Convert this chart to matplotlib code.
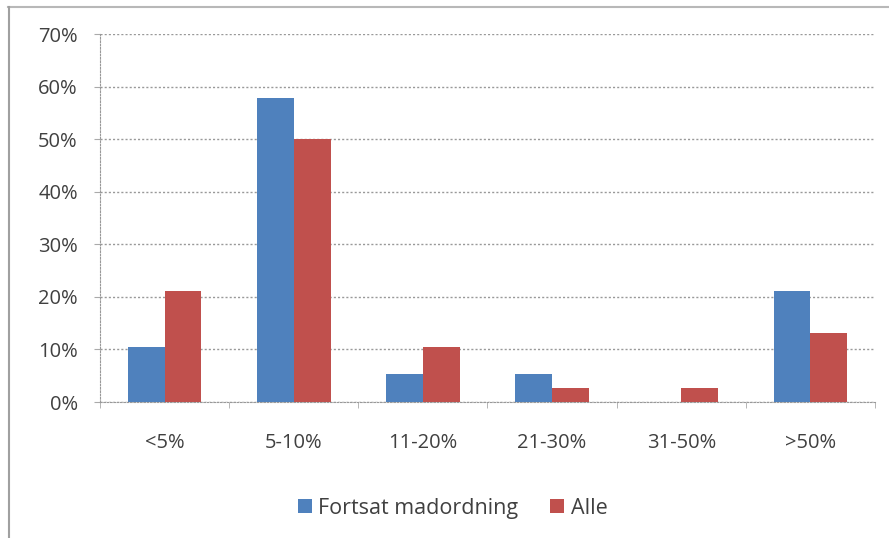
import numpy as np
import matplotlib
matplotlib.use('Agg')
import matplotlib.pyplot as plt
from matplotlib.lines import Line2D

categories = ['<5%', '5-10%', '11-20%', '21-30%', '31-50%', '>50%']
fortsat = [10.5, 57.9, 5.3, 5.3, 0.0, 21.1]
alle = [21.1, 50.0, 10.5, 2.6, 2.6, 13.2]
yticks = [0, 10, 20, 30, 40, 50, 60, 70]

plt.rcParams['font.family'] = ['Open Sans', 'DejaVu Sans']

fig = plt.figure(figsize=(8.89, 5.38), dpi=100)
ax = fig.add_axes([100/889, 1-402/538, 775/889, 368/538])

x = np.arange(len(categories))
w = 0.285
ax.bar(x - w/2, fortsat, w, color='#4F81BD', label='Fortsat madordning', zorder=3)
ax.bar(x + w/2, alle, w, color='#C0504D', label='Alle', zorder=3)

fs = 14.5
ax.set_xlim(-0.5, len(categories) - 0.5)
ax.set_ylim(0, 70)
ax.set_yticks(yticks)
ax.set_yticklabels([f'{v}%' for v in yticks], fontsize=fs, color='#404040')
ax.set_xticks(x)
ax.set_xticklabels(categories, fontsize=fs, color='#404040')
ax.set_xticks(np.arange(len(categories) + 1) - 0.5, minor=True)
ax.tick_params(axis='x', which='major', length=0, pad=22)
ax.tick_params(axis='x', which='minor', length=4, color='#aaaaaa', direction='out')
ax.tick_params(axis='y', length=4, color='#aaaaaa', pad=12)

ax.grid(axis='y', color='#999999', linestyle=(0, (1.5, 1.5)), linewidth=1, zorder=0)
for s in ['top', 'right']:
    ax.spines[s].set_visible(False)
for s in ['left', 'bottom']:
    ax.spines[s].set_color('#999999')
    ax.spines[s].set_linestyle((0, (1.5, 1.5)))

ax.legend(loc='lower center', bbox_to_anchor=(0.455, -0.37), ncol=2, frameon=False,
          fontsize=15.5, handlelength=0.65, handleheight=0.65, handletextpad=0.3,
          columnspacing=1.5, labelcolor='#404040')

fig.add_artist(Line2D([8/889, 1], [1-7/538, 1-7/538], color='#b8b8b8', linewidth=1.5))
fig.add_artist(Line2D([9/889, 9/889], [0, 1-7/538], color='#a0a0a0', linewidth=1.5))

fig.savefig('out.png', dpi=100)
